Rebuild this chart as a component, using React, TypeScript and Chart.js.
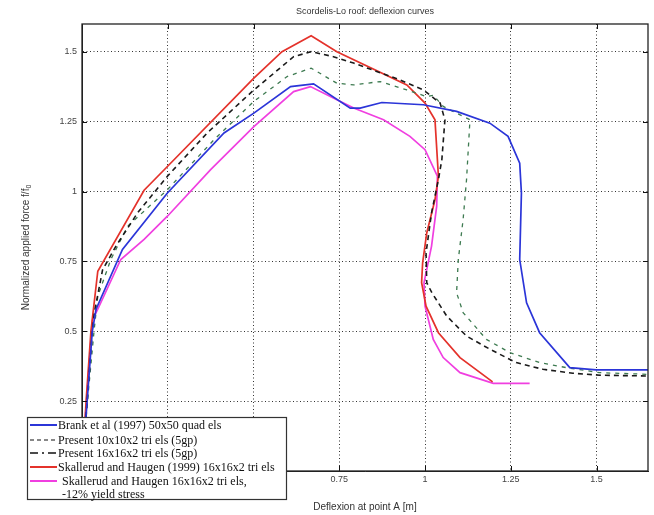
import React, { useEffect, useRef } from "react";
import { Chart, registerables } from "chart.js";

Chart.register(...registerables);

const chartTitle = "Scordelis-Lo roof: deflexion curves";
const xAxisTitle = "Deflexion at point A [m]";
const yAxisTitle = "Normalized applied force f/f";
const yAxisSub = "0";

const xTicks = [0, 0.25, 0.5, 0.75, 1, 1.25, 1.5];
const yTicks = [0, 0.25, 0.5, 0.75, 1, 1.25, 1.5];

// Brank et al (1997) 50x50 quad els
const brankX = [0, 0.015, 0.03, 0.041, 0.118, 0.249, 0.414, 0.501, 0.608, 0.675, 0.782, 0.811, 0.874, 0.995, 1.092, 1.189, 1.242, 1.276, 1.281, 1.276, 1.296, 1.334, 1.422, 1.499, 1.65];
const brankY = [0, 0.25, 0.5, 0.579, 0.793, 0.995, 1.21, 1.281, 1.376, 1.386, 1.299, 1.299, 1.319, 1.311, 1.287, 1.245, 1.198, 1.102, 0.995, 0.757, 0.602, 0.495, 0.37, 0.362, 0.362];

// Present 10x10x2 tri els (5gp)
const p10X = [0, 0.015, 0.03, 0.036, 0.06, 0.099, 0.162, 0.249, 0.365, 0.501, 0.617, 0.668, 0.733, 0.792, 0.927, 0.995, 1.044, 1.058, 1.049, 1.039, 1.019, 1.003, 1.005, 1.02, 1.063, 1.121, 1.189, 1.266, 1.344, 1.431, 1.509, 1.65];
const p10Y = [0, 0.25, 0.5, 0.567, 0.72, 0.805, 0.924, 1.055, 1.21, 1.364, 1.483, 1.501, 1.483, 1.46, 1.4, 1.364, 1.317, 1.257, 1.114, 1.043, 0.924, 0.781, 0.674, 0.638, 0.555, 0.483, 0.436, 0.388, 0.364, 0.35, 0.343, 0.34];

// Present 16x16x2 tri els (5gp)
const p16X = [0, 0.016, 0.035, 0.046, 0.084, 0.133, 0.249, 0.385, 0.501, 0.598, 0.668, 0.743, 0.792, 0.869, 0.947, 1.005, 1.024, 1.053, 1.131, 1.121, 1.111, 1.097, 1.092, 1.111, 1.179, 1.247, 1.334, 1.412, 1.509, 1.65];
const p16Y = [0, 0.25, 0.5, 0.626, 0.757, 0.876, 1.007, 1.186, 1.323, 1.412, 1.442, 1.388, 1.382, 1.394, 1.364, 1.34, 1.345, 1.305, 1.257, 1.043, 0.9, 0.757, 0.638, 0.567, 0.471, 0.424, 0.388, 0.37, 0.352, 0.346];

// Skallerud and Haugen (1999) 16x16x2 tri els
const skal99X = [0, 0.012, 0.026, 0.046, 0.181, 0.249, 0.501, 0.583, 0.668, 0.743, 0.947, 1.0, 1.029, 1.039, 1.029, 1.005, 0.993, 0.99, 1.003, 1.039, 1.102, 1.197];
const skal99Y = [0, 0.25, 0.5, 0.715, 1.005, 1.09, 1.406, 1.501, 1.558, 1.501, 1.382, 1.317, 1.257, 1.055, 0.971, 0.852, 0.745, 0.674, 0.59, 0.495, 0.406, 0.319];

// Skallerud and Haugen 16x16x2 tri els, -12% yield stress
const skal12X = [0, 0.012, 0.025, 0.031, 0.046, 0.113, 0.181, 0.249, 0.375, 0.501, 0.617, 0.666, 0.743, 0.792, 0.879, 0.956, 1.0, 1.036, 1.034, 1.019, 0.997, 1.0, 1.024, 1.053, 1.102, 1.199, 1.305];
const skal12Y = [0, 0.232, 0.45, 0.543, 0.579, 0.757, 0.829, 0.912, 1.079, 1.233, 1.358, 1.376, 1.329, 1.299, 1.257, 1.198, 1.15, 1.055, 0.948, 0.805, 0.674, 0.59, 0.471, 0.406, 0.352, 0.314, 0.314];

const legendLabels = [
  "Brank et al (1997) 50x50 quad els",
  "Present 10x10x2 tri els (5gp)",
  "Present 16x16x2 tri els (5gp)",
  "Skallerud and Haugen (1999) 16x16x2 tri els",
  "Skallerud and Haugen 16x16x2 tri els,",
  "-12% yield stress",
];

const toPts = (xs: number[], ys: number[]) => xs.map((x, i) => ({ x, y: ys[i] }));
const fmt = (v: number) => String(Math.round(v * 100) / 100);

const decor = {
  id: "decor",
  afterDraw(chart: any) {
    const { ctx, chartArea: a } = chart;
    const xs = chart.scales.x;
    const ys = chart.scales.y;
    ctx.save();
    // inward tick marks
    ctx.strokeStyle = "#111";
    ctx.lineWidth = 1;
    ctx.setLineDash([]);
    ctx.beginPath();
    xTicks.forEach((v) => {
      const px = Math.round(xs.getPixelForValue(v)) + 0.5;
      ctx.moveTo(px, a.bottom);
      ctx.lineTo(px, a.bottom - 5);
      ctx.moveTo(px, a.top);
      ctx.lineTo(px, a.top + 5);
    });
    yTicks.forEach((v) => {
      const py = Math.round(ys.getPixelForValue(v)) + 0.5;
      ctx.moveTo(a.left, py);
      ctx.lineTo(a.left + 5, py);
      ctx.moveTo(a.right, py);
      ctx.lineTo(a.right - 5, py);
    });
    ctx.stroke();
    // frame
    ctx.strokeStyle = "#222";
    ctx.lineWidth = 1.3;
    ctx.strokeRect(a.left, a.top, a.right - a.left, a.bottom - a.top);

    // titles
    const cx = (a.left + a.right) / 2;
    ctx.fillStyle = "#333";
    ctx.textBaseline = "middle";
    ctx.textAlign = "center";
    ctx.font = '9px "Liberation Sans", Arial, sans-serif';
    ctx.fillText(chartTitle, cx, 12);
    ctx.font = '10px "Liberation Sans", Arial, sans-serif';
    ctx.fillText(xAxisTitle, cx, 507);
    // y title with subscript
    ctx.save();
    ctx.translate(26, (a.top + a.bottom) / 2);
    ctx.rotate(-Math.PI / 2);
    const w1 = ctx.measureText(yAxisTitle).width;
    ctx.font = '7px "Liberation Sans", Arial, sans-serif';
    const w2 = ctx.measureText(yAxisSub).width;
    const start = -(w1 + w2) / 2;
    ctx.textAlign = "left";
    ctx.font = '10px "Liberation Sans", Arial, sans-serif';
    ctx.fillText(yAxisTitle, start, 0);
    ctx.font = '7px "Liberation Sans", Arial, sans-serif';
    ctx.fillText(yAxisSub, start + w1, 3);
    ctx.restore();

    // legend box
    const bx = 27, by = 417, bw = 259, bh = 82;
    ctx.fillStyle = "#fff";
    ctx.fillRect(bx, by, bw, bh);
    ctx.strokeStyle = "#333";
    ctx.lineWidth = 1.2;
    ctx.strokeRect(bx + 0.5, by + 0.5, bw, bh);

    const rows = [
      { y: 425, color: "#2b35d8", dash: [] as number[], width: 2, text: legendLabels[0], tx: 58 },
      { y: 440, color: "#111", dash: [4, 3], width: 1.2, text: legendLabels[1], tx: 58 },
      { y: 453, color: "#111", dash: [8, 4, 2, 4], width: 1.5, text: legendLabels[2], tx: 58 },
      { y: 467, color: "#e4322b", dash: [], width: 2, text: legendLabels[3], tx: 58 },
      { y: 481, color: "#f03fe0", dash: [], width: 2, text: legendLabels[4], tx: 62 },
    ];
    ctx.font = '12px "Liberation Serif", "Times New Roman", serif';
    ctx.textAlign = "left";
    ctx.textBaseline = "middle";
    rows.forEach((r) => {
      ctx.strokeStyle = r.color;
      ctx.lineWidth = r.width;
      ctx.setLineDash(r.dash);
      ctx.beginPath();
      ctx.moveTo(30, r.y);
      ctx.lineTo(57, r.y);
      ctx.stroke();
      ctx.setLineDash([]);
      ctx.fillStyle = "#111";
      ctx.fillText(r.text, r.tx, r.y + 1);
    });
    ctx.fillText(legendLabels[5], 62, 495);
    ctx.restore();
  },
};

export default function App() {
  const ref = useRef<HTMLCanvasElement | null>(null);
  useEffect(() => {
    document.body.style.margin = "0";
    if (!ref.current) return;
    const line = (data: any, color: string, width: number, dash: number[] = []) => ({
      data,
      borderColor: color,
      backgroundColor: color,
      borderWidth: width,
      borderDash: dash,
      showLine: true,
      pointRadius: 0,
      tension: 0,
      fill: false,
    });
    const chart = new Chart(ref.current, {
      type: "scatter",
      data: {
        datasets: [
          { label: legendLabels[0], ...line(toPts(brankX, brankY), "#2b35d8", 1.7) },
          { label: legendLabels[1], ...line(toPts(p10X, p10Y), "#1a1a1a", 1.6, [5, 4]) },
          { label: legendLabels[2], ...line(toPts(p16X, p16Y), "#3d7a50", 1.3, [4, 5]) },
          { label: legendLabels[3], ...line(toPts(skal99X, skal99Y), "#e4322b", 1.7) },
          { label: legendLabels[4], ...line(toPts(skal12X, skal12Y), "#f03fe0", 1.7) },
        ],
      },
      options: {
        responsive: false,
        animation: false,
        layout: { padding: { top: 24, right: 6, left: 0, bottom: 0 } },
        plugins: { legend: { display: false }, title: { display: false }, tooltip: { enabled: false } },
        scales: {
          x: {
            type: "linear",
            min: 0,
            max: 1.65,
            afterBuildTicks: (s: any) => {
              s.ticks = xTicks.map((v) => ({ value: v }));
            },
            afterFit: (s: any) => {
              s.height = 44;
            },
            ticks: {
              callback: (v: any) => fmt(Number(v)),
              font: { size: 9, family: '"Liberation Sans", Arial, sans-serif' },
              color: "#444",
              padding: 3,
              maxRotation: 0,
              autoSkip: false,
            },
            grid: { color: "#333", lineWidth: 1, drawTicks: false },
            border: { display: true, color: "#222", width: 1, dash: [1, 2.5] },
          },
          y: {
            type: "linear",
            min: 0,
            max: 1.6,
            afterBuildTicks: (s: any) => {
              s.ticks = yTicks.map((v) => ({ value: v }));
            },
            afterFit: (s: any) => {
              s.width = 82;
            },
            ticks: {
              callback: (v: any) => fmt(Number(v)),
              font: { size: 9, family: '"Liberation Sans", Arial, sans-serif' },
              color: "#444",
              padding: 5,
              autoSkip: false,
            },
            grid: { color: "#333", lineWidth: 1, drawTicks: false },
            border: { display: true, color: "#222", width: 1, dash: [1, 2.5] },
          },
        },
      },
      plugins: [decor],
    } as any);
    return () => chart.destroy();
  }, []);
  return (
    <div style={{ position: "absolute", left: 0, top: 0, width: 654, height: 515, background: "#fff" }}>
      <canvas ref={ref} width={654} height={515} />
    </div>
  );
}
